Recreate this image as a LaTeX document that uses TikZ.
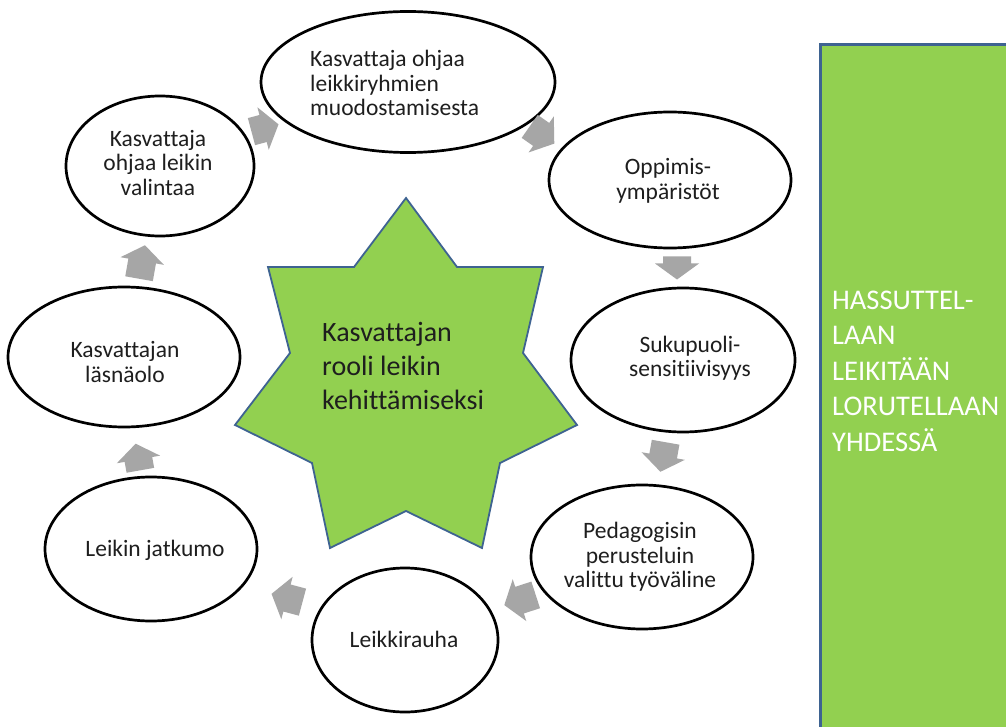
\documentclass[tikz,border=0pt]{standalone}
\usepackage{fontspec}
\setmainfont{Carlito}[Ligatures=NoCommon]
\usetikzlibrary{shapes.geometric}
\definecolor{leaf}{HTML}{92D050}
\definecolor{edgeblue}{HTML}{3E6391}
\definecolor{arrowgray}{HTML}{A6A6A6}
\definecolor{inkdark}{HTML}{1E1E1E}
% block arrow: x, y, angle, length
\newcommand{\flowarrow}[4]{%
  \begin{scope}[shift={(#1,#2)},rotate=#3]
    \fill[arrowgray] (-#4/2,-14) -- (#4/2-16,-14) -- (#4/2-16,-22) -- (#4/2,0)
      -- (#4/2-16,22) -- (#4/2-16,14) -- (-#4/2,14) -- cycle;
  \end{scope}}
\begin{document}
\begin{tikzpicture}[x=1pt,y=-1pt,
  bubble/.style={ellipse, draw=black, line width=2.7pt, fill=white, inner sep=0pt},
  btext/.style={font=\fontsize{23.5}{24.5}\selectfont, text=inkdark, align=center, inner sep=0pt},
  sidetext/.style={font=\fontsize{28.5}{35.5}\selectfont, text=white, align=left, inner sep=0pt}]
\useasboundingbox (0,0) rectangle (1006,727);
\fill[white] (0,0) rectangle (1006,727);

% side panel
\draw[fill=leaf, draw=edgeblue, line width=3pt] (820,45) rectangle (1015,740);
\node[sidetext, anchor=west] (side) at (832,371) {HASSUTTEL-\\LAAN\\LEIKITÄÄN\\LORUTELLAAN\\YHDESSÄ};

% central star
\draw[fill=leaf, draw=edgeblue, line width=1.8pt]
  (406,198) -- (457,267) -- (543,267) -- (523,353) -- (577,425) -- (500,463) -- (482,548)
  -- (406,511) -- (330,548) -- (312,463) -- (235,425) -- (290,353) -- (268,267) -- (354,267) -- cycle;
\node[font=\fontsize{28}{34}\selectfont, text=inkdark, align=left, inner sep=0pt, anchor=west] (core) at (322,366)
  {Kasvattajan\\rooli leikin\\kehittämiseksi};

% ellipses
\node[bubble, minimum width=188pt, minimum height=140pt] (A) at (160,166) {};
\node[bubble, minimum width=294pt, minimum height=141pt] (B) at (408,82) {};
\node[bubble, minimum width=242pt, minimum height=136pt] (C) at (670,180) {};
\node[bubble, minimum width=224pt, minimum height=144pt] (D) at (683,360) {};
\node[bubble, minimum width=222pt, minimum height=144pt] (E) at (642,557) {};
\node[bubble, minimum width=186pt, minimum height=144pt] (F) at (405,640) {};
\node[bubble, minimum width=212pt, minimum height=144pt] (G) at (151,549) {};
\node[bubble, minimum width=232pt, minimum height=140pt] (H) at (124,357) {};

\node[btext] (tA) at (158,163) {Kasvattaja\\ohjaa leikin\\valintaa};
\node[btext, align=left, anchor=west] (tB) at (310,83) {Kasvattaja ohjaa\\leikkiryhmien\\muodostamisesta};
\node[btext] (tC) at (668,181) {Oppimis-\\ympäristöt};
\node[btext] (tD) at (690,358) {Sukupuoli-\\sensitiivisyys};
\node[btext] (tE) at (640,557) {Pedagogisin\\perusteluin\\valittu työväline};
\node[btext] (tF) at (404,639) {Leikkirauha};
\node[btext] (tG) at (155,550) {Leikin jatkumo};
\node[btext] (tH) at (125,362) {Kasvattajan\\läsnäolo};

% flow arrows
\flowarrow{265}{128}{15}{28}
\flowarrow{542}{135}{-35}{30}
\flowarrow{677}{268}{-90}{23}
\flowarrow{663}{457}{-100}{30}
\flowarrow{520}{600}{198}{33}
\flowarrow{287}{598}{165}{32}
\flowarrow{138}{457}{100}{27}
\flowarrow{142}{262}{80}{34}
\end{tikzpicture}
\end{document}
